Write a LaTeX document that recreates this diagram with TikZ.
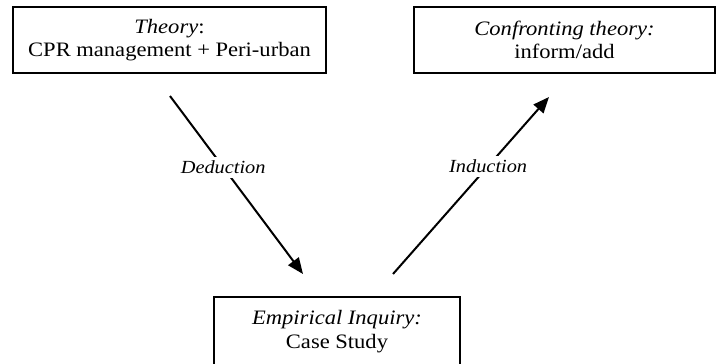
\documentclass[tikz,border=0pt]{standalone}
\usepackage{fontspec}
\setmainfont[FakeStretch=1.1]{Liberation Serif}
\usetikzlibrary{arrows.meta}
\begin{document}
\begin{tikzpicture}[x=1pt,y=-1pt,
  box/.style={draw,line width=1.6pt,rectangle,inner sep=0pt,align=center,
    font=\fontsize{20.5}{23.5}\selectfont},
  flow/.style={line width=2pt,-{Triangle[length=16pt,width=13pt]}},
  lbl/.style={fill=white,inner sep=4pt,font=\fontsize{18.5}{21}\selectfont\itshape}]
\useasboundingbox (0,0) rectangle (716,364);
\node[box,minimum width=313pt,minimum height=66pt] (theory) at (169.5,40)
  {\textit{Theory}:\\CPR management + Peri-urban};
\node[box,minimum width=301pt,minimum height=66pt] (confront) at (564.5,40)
  {\textit{Confronting theory:}\\inform/add};
\node[box,minimum width=246pt,minimum height=69pt] (inquiry) at (337,331.5)
  {\textit{Empirical Inquiry:}\\Case Study};
\coordinate (dedA) at (170,96);
\coordinate (dedB) at (303,274);
\coordinate (indA) at (393,274);
\coordinate (indB) at (549,97);
\draw[flow] (dedA) -- node[lbl,pos=0.4] {Deduction} (dedB);
\draw[flow] (indA) -- node[lbl,pos=0.61] {Induction} (indB);
\end{tikzpicture}
\end{document}
